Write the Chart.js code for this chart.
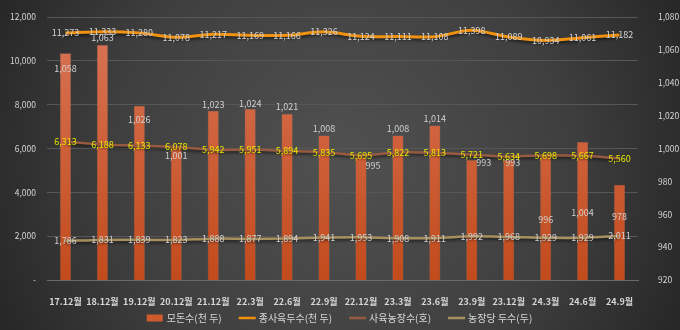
<!DOCTYPE html>
<html>
<head>
<meta charset="utf-8">
<script src="https://cdn.jsdelivr.net/npm/chart.js@4"></script>
<style>
  html, body { margin: 0; padding: 0; background: #2b2b2b; }
  #wrap { width: 680px; height: 330px; position: relative; }
</style>
</head>
<body>
<div id="wrap"><canvas id="c" width="680" height="330"></canvas></div>
<script>
// Periods
const categories = ['17.12월','18.12월','19.12월','20.12월','21.12월','22.3월','22.6월','22.9월','22.12월','23.3월','23.6월','23.9월','23.12월','24.3월','24.6월','24.9월'];
// 모돈수 (천 두) — right axis
const sows = [1058, 1063, 1026, 1001, 1023, 1024, 1021, 1008, 995, 1008, 1014, 993, 993, 996, 1004, 978];
// 종사육두수 (천 두) — left axis
const totalPigs = [11273, 11333, 11280, 11078, 11217, 11169, 11166, 11326, 11124, 11111, 11108, 11398, 11089, 10934, 11061, 11182];
// 사육농장수 (호) — left axis
const farms = [6313, 6188, 6133, 6078, 5942, 5951, 5894, 5835, 5695, 5822, 5813, 5721, 5634, 5698, 5667, 5560];
// 농장당 두수 (두) — left axis
const perFarm = [1786, 1831, 1839, 1823, 1888, 1877, 1894, 1941, 1953, 1908, 1911, 1992, 1968, 1929, 1929, 2011];
// Axis ticks
const leftTicks = [0, 2000, 4000, 6000, 8000, 10000, 12000];
const rightTicks = [920, 940, 960, 980, 1000, 1020, 1040, 1060, 1080];

const FONT = '"Noto Sans CJK KR", "Noto Sans", sans-serif';
const TXT = '#d6d6d6';
const fmt = v => v.toLocaleString('en-US');

// label nudges for the bar values [dx, dy] relative to each bar's top
const barLabelNudge = [[0,15],[0,-7],[0,14],[0,9],[0,-6],[0,-6],[0,-7],[0,-7],[12,9],[0,-7],[0,-7],[12,3],[4,3],[0,64],[0,71],[0,32]];

const bgPlugin = {
  id: 'bg',
  beforeDraw(chart) {
    const { ctx, width, height } = chart;
    ctx.save();
    const g = ctx.createRadialGradient(340, 160, 20, 340, 160, 430);
    g.addColorStop(0, '#4f4f4f');
    g.addColorStop(0.5, '#3f3f3f');
    g.addColorStop(1, '#1e1e1e');
    ctx.fillStyle = g;
    ctx.fillRect(0, 0, width, height);
    ctx.restore();
  }
};

// soft drop shadow under the line series
const shadowPlugin = {
  id: 'lineShadow',
  beforeDatasetDraw(chart, args) {
    const ds = chart.data.datasets[args.index];
    if (ds.type !== 'line') return;
    const ctx = chart.ctx;
    ctx.save();
    ctx.shadowColor = 'rgba(0,0,0,0.55)';
    ctx.shadowBlur = 3;
    ctx.shadowOffsetY = 2;
  },
  afterDatasetDraw(chart, args) {
    const ds = chart.data.datasets[args.index];
    if (ds.type !== 'line') return;
    chart.ctx.restore();
  }
};

const labelPlugin = {
  id: 'valueLabels',
  afterDatasetsDraw(chart) {
    const { ctx } = chart;
    ctx.save();
    ctx.font = '9px ' + FONT;
    ctx.textAlign = 'center';
    ctx.textBaseline = 'middle';
    chart.data.datasets.forEach((ds, di) => {
      const meta = chart.getDatasetMeta(di);
      meta.data.forEach((el, i) => {
        let x = el.x, y = el.y;
        if (ds.type === 'bar') {
          x += barLabelNudge[i][0];
          y += barLabelNudge[i][1];
        }
        ctx.fillStyle = ds.labelColor;
        ctx.fillText(fmt(ds.data[i]), x, y);
      });
    });
    ctx.restore();
  }
};

const legendPlugin = {
  id: 'customLegend',
  afterDraw(chart) {
    const { ctx } = chart;
    const items = chart.data.datasets;
    ctx.save();
    ctx.font = '10px ' + FONT;
    ctx.textBaseline = 'middle';
    const y = 318;
    const widths = items.map(d => 21 + ctx.measureText(d.label).width);
    const gap = 16;
    const total = widths.reduce((a, b) => a + b, 0) + gap * (items.length - 1);
    let x = (680 - total) / 2;
    items.forEach((d, i) => {
      if (d.type === 'bar') {
        ctx.fillStyle = '#cf5a2c';
        ctx.fillRect(x, y - 3.5, 16, 7);
      } else {
        ctx.strokeStyle = d.borderColor;
        ctx.lineWidth = 2.5;
        ctx.beginPath();
        ctx.moveTo(x, y);
        ctx.lineTo(x + 17, y);
        ctx.stroke();
      }
      ctx.fillStyle = TXT;
      ctx.fillText(d.label, x + 20, y);
      x += widths[i] + gap;
    });
    ctx.restore();
  }
};

function barFill(context) {
  const chart = context.chart;
  const area = chart.chartArea;
  if (!area) return '#cf5a2c';
  const g = chart.ctx.createLinearGradient(0, area.top, 0, area.bottom);
  g.addColorStop(0, '#d97557');
  g.addColorStop(1, '#c24b1c');
  return g;
}

new Chart(document.getElementById('c'), {
  data: {
    labels: categories,
    datasets: [
      {
        type: 'bar', label: '모돈수(천 두)', data: sows, yAxisID: 'y1',
        backgroundColor: barFill, borderColor: 'rgba(230,140,110,0.5)', borderWidth: 0.5,
        barPercentage: 0.3, categoryPercentage: 1, order: 5, labelColor: '#d0d0d0'
      },
      {
        type: 'line', label: '종사육두수(천 두)', data: totalPigs, yAxisID: 'y',
        borderColor: '#f0920f', borderWidth: 3, tension: 0.3, pointRadius: 0,
        order: 1, labelColor: '#d4d4d4'
      },
      {
        type: 'line', label: '사육농장수(호)', data: farms, yAxisID: 'y',
        borderColor: '#955a40', borderWidth: 2.5, tension: 0.3, pointRadius: 0,
        order: 2, labelColor: '#e6e600'
      },
      {
        type: 'line', label: '농장당 두수(두)', data: perFarm, yAxisID: 'y',
        borderColor: '#a88f5e', borderWidth: 2.5, tension: 0.3, pointRadius: 0,
        order: 3, labelColor: '#d0d0d0'
      }
    ]
  },
  options: {
    responsive: false,
    animation: false,
    layout: { padding: { top: 10, left: 0, right: 0, bottom: 0 } },
    plugins: { legend: { display: false }, tooltip: { enabled: false } },
    scales: {
      x: {
        grid: { display: false },
        border: { color: '#6a6a6a', width: 1 },
        ticks: { color: TXT, font: { family: FONT, size: 9, weight: 'bold' }, padding: 8, maxRotation: 0, autoSkip: false },
        afterFit(s) { s.height = 50; }
      },
      y: {
        position: 'left', min: 0, max: 12000,
        afterBuildTicks(s) { s.ticks = leftTicks.map(v => ({ value: v })); },
        grid: { color: '#575757', lineWidth: 1, drawTicks: false },
        border: { display: false },
        ticks: { color: TXT, font: { family: FONT, size: 8.5 }, padding: 11, callback: v => v === 0 ? '-' : fmt(v) },
        afterFit(s) { s.width = 47; }
      },
      y1: {
        position: 'right', min: 920, max: 1080,
        afterBuildTicks(s) { s.ticks = rightTicks.map(v => ({ value: v })); },
        grid: { display: false },
        border: { display: false },
        ticks: { color: TXT, font: { family: FONT, size: 8.5 }, padding: 12, callback: v => fmt(v) },
        afterFit(s) { s.width = 42; }
      }
    }
  },
  plugins: [bgPlugin, shadowPlugin, labelPlugin, legendPlugin]
});
</script>
</body>
</html>
